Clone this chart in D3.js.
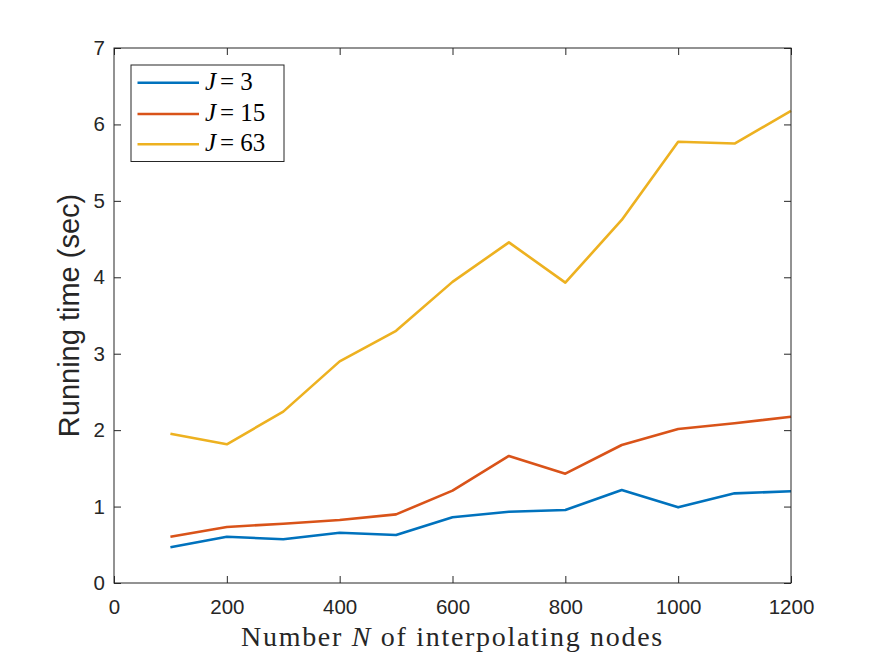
<!DOCTYPE html>
<html><head><meta charset="utf-8">
<script src="https://cdn.jsdelivr.net/npm/d3@7"></script>
<style>body{margin:0;background:#fff}svg{display:block}</style>
</head><body>
<script>
const nodes = [100,200,300,400,500,600,700,800,900,1000,1100,1200];
const j3  = [0.467,0.606,0.572,0.658,0.628,0.860,0.933,0.955,1.217,0.990,1.173,1.200];
const j15 = [0.606,0.733,0.776,0.824,0.898,1.208,1.662,1.430,1.806,2.015,2.090,2.176];
const j63 = [1.954,1.815,2.242,2.900,3.300,3.940,4.457,3.930,4.750,5.774,5.750,6.176];
const seriesNames = ["3","15","63"];
const xTicks = [0,200,400,600,800,1000,1200];
const yTicks = [0,1,2,3,4,5,6,7];
const colors = ["#0072BD","#D95319","#EDB120"];

const W=875,H=656, L=114, R=791, T=48, B=583;
const svg=d3.select("body").append("svg").attr("width",W).attr("height",H);
const x=d3.scaleLinear().domain([0,1200]).range([L,R]);
const y=d3.scaleLinear().domain([0,7]).range([B,T]);
const ax="#262626";
const tickFont="'Liberation Sans',Arial,sans-serif";
const serif="'Liberation Serif','Times New Roman',serif";

svg.append("rect").attr("x",L).attr("y",T).attr("width",R-L).attr("height",B-T).attr("fill","#fff");

const series=[j3,j15,j63];
const line=d3.line().x((d,i)=>x(nodes[i])).y(d=>y(d));
series.forEach((s,k)=>{
  svg.append("path").datum(s).attr("d",line).attr("fill","none")
    .attr("stroke",colors[k]).attr("stroke-width",2.6).attr("stroke-linejoin","round");
});

function styleAxis(g){
  g.select(".domain").remove();
  g.selectAll("line").attr("stroke",ax).attr("stroke-width",1);
  g.selectAll("text").attr("fill",ax).style("font-family",tickFont).style("font-size","20.5px");
}
const tl=7;
svg.append("g").attr("transform",`translate(0,${B})`)
  .call(d3.axisBottom(x).tickValues(xTicks).tickSize(-tl).tickPadding(16).tickFormat(d3.format("d")))
  .call(styleAxis);
svg.append("g").attr("transform",`translate(0,${T})`)
  .call(d3.axisTop(x).tickValues(xTicks).tickSize(-tl).tickFormat(""))
  .call(styleAxis);
svg.append("g").attr("transform",`translate(${L},0)`)
  .call(d3.axisLeft(y).tickValues(yTicks).tickSize(-tl).tickPadding(9).tickFormat(d3.format("d")))
  .call(styleAxis);
svg.append("g").attr("transform",`translate(${R},0)`)
  .call(d3.axisRight(y).tickValues(yTicks).tickSize(-tl).tickFormat(""))
  .call(styleAxis);

svg.append("rect").attr("x",L).attr("y",T).attr("width",R-L).attr("height",B-T)
  .attr("fill","none").attr("stroke",ax).attr("stroke-width",1);

// axis labels
const xl=svg.append("text").attr("x",(L+R)/2).attr("y",646).attr("text-anchor","middle")
  .attr("fill",ax).style("font-family",serif).style("font-size","28px").style("letter-spacing","1.7px");
xl.append("tspan").text("Number ");
xl.append("tspan").attr("font-style","italic").text("N");
xl.append("tspan").text(" of interpolating nodes");

svg.append("text").attr("transform",`translate(79,${(T+B)/2}) rotate(-90)`).attr("text-anchor","middle")
  .attr("fill",ax).style("font-family",tickFont).style("font-size","29px").text("Running time (sec)");

// legend
const lg=svg.append("g");
lg.append("rect").attr("x",131).attr("y",65).attr("width",153).attr("height",96.5)
  .attr("fill","#fff").attr("stroke",ax).attr("stroke-width",1);
const rows=[82.7,114,144.3];
seriesNames.forEach((n,k)=>{
  lg.append("line").attr("x1",137.5).attr("x2",199).attr("y1",rows[k]).attr("y2",rows[k])
    .attr("stroke",colors[k]).attr("stroke-width",2.6);
  const t=lg.append("text").attr("x",205).attr("y",rows[k]+7).attr("fill","#000")
    .style("font-family",serif).style("font-size","25px");
  t.append("tspan").attr("font-style","italic").text("J");
  t.append("tspan").attr("dx",4).text("=");
  t.append("tspan").attr("dx",6).text(n);
});
</script>
</body></html>
